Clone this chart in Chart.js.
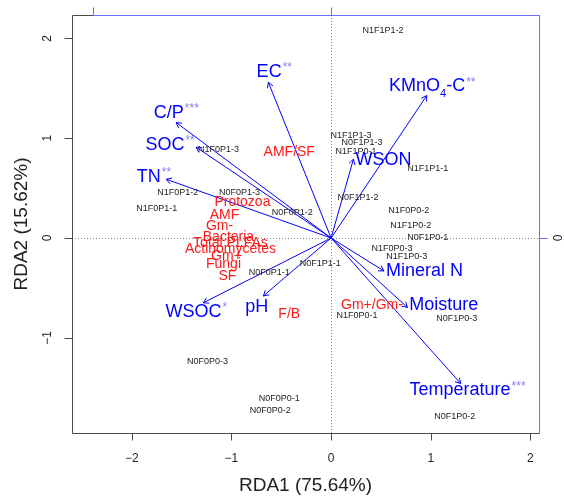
<!DOCTYPE html>
<html>
<head>
<meta charset="utf-8">
<script src="https://cdn.jsdelivr.net/npm/chart.js@4"></script>
<style>
  html, body { margin: 0; padding: 0; background: #fff; }
  #wrap { width: 564px; height: 498px; position: relative; }
</style>
</head>
<body>
<div id="wrap"><canvas id="rda"></canvas></div>
<script>
// RDA biplot data
const siteNames = ['N1F1P1-2', 'N1F0P1-3', 'N1F0P1-2', 'N0F0P1-3', 'N1F0P1-1', 'N0F0P1-2', 'N0F1P1-1', 'N0F0P1-1',
    'N1F1P1-3', 'N0F1P1-3', 'N1F1P0-1', 'N1F1P1-1', 'N0F1P1-2', 'N1F0P0-2', 'N1F1P0-2', 'N0F1P0-1',
    'N1F0P0-3', 'N1F1P0-3', 'N0F0P0-3', 'N0F0P0-1', 'N0F0P0-2', 'N1F0P0-1', 'N0F1P0-3', 'N0F1P0-2'];
const siteX = [0.52, -1.13, -1.54, -0.92, -1.75, -0.39, -0.11, -0.62,
    0.20, 0.31, 0.25, 0.97, 0.27, 0.78, 0.80, 0.97,
    0.61, 0.76, -1.24, -0.52, -0.61, 0.26, 1.26, 1.24];
const siteY = [2.08, 0.89, 0.46, 0.46, 0.30, 0.26, -0.26, -0.35,
    1.03, 0.96, 0.87, 0.70, 0.41, 0.28, 0.13, 0.01,
    -0.11, -0.19, -1.24, -1.61, -1.73, -0.78, -0.81, -1.79];

const speciesNames = ['AMF/SF', 'Protozoa', 'AMF', 'Gm-', 'Bacteria', 'Total PLFAs', 'Actinomycetes', 'Gm+', 'Fungi', 'SF', 'F/B', 'Gm+/Gm-'];
const speciesX = [-0.42, -0.89, -1.07, -1.12, -1.03, -1.01, -1.01, -1.05, -1.08, -1.04, -0.42, 0.41];
const speciesY = [0.86, 0.36, 0.23, 0.12, 0.01, -0.05, -0.11, -0.18, -0.26, -0.38, -0.76, -0.67];

const envNames = ['EC', 'KMnO4-C', 'C/P', 'SOC', 'TN', 'WSON', 'Mineral N', 'Moisture', 'Temperature', 'WSOC', 'pH'];
const envStars = ['**', '**', '***', '**', '**', '', '', '', '***', '*', ''];
const envX = [-0.63, 0.96, -1.555, -1.354, -1.655, 0.224, 0.53, 0.766, 1.30, -1.283, -0.68];
const envY = [1.56, 1.427, 1.157, 0.91, 0.589, 0.79, -0.33, -0.695, -1.457, -0.649, -0.58];
// where each arrow label sits
const envLabelX = [-0.622, 0.963, -1.628, -1.668, -1.830, 0.525, 0.938, 1.131, 1.294, -1.381, -0.745];
const envLabelY = [1.662, 1.518, 1.251, 0.930, 0.615, 0.782, -0.331, -0.672, -1.525, -0.739, -0.689];

const xTicks = [-2, -1, 0, 1, 2];
const yTicks = [-1, 0, 1, 2];
const arrowTicks = [-1, 0];   // top/right axes, arrow scale
const arrowMul = 2.39;

const FONT = '"Liberation Sans", Arial, Helvetica, sans-serif';
const BLUE = '#0000ff';
const AXBLUE = '#6a6aff';

const toPts = (xs, ys) => xs.map((x, i) => ({ x: x, y: ys[i] }));

const datasets = envNames.map((n, i) => ({
    label: n,
    data: [{ x: 0, y: 0 }, { x: envX[i], y: envY[i] }],
    showLine: true,
    borderColor: BLUE,
    borderWidth: 1,
    pointRadius: 0,
    kind: 'arrow'
}));
datasets.push({ label: 'sites', data: toPts(siteX, siteY), pointRadius: 0, kind: 'sites' });
datasets.push({ label: 'species', data: toPts(speciesX, speciesY), pointRadius: 0, kind: 'species' });
datasets.push({ label: 'envLabels', data: toPts(envLabelX, envLabelY), pointRadius: 0, kind: 'env' });

function findMeta(chart, kind) {
    const i = chart.data.datasets.findIndex(d => d.kind === kind);
    return chart.getDatasetMeta(i);
}

const biplot = {
    id: 'biplot',
    beforeDatasetsDraw(chart) {
        const { ctx, chartArea: a, scales: { x, y } } = chart;
        ctx.save();
        ctx.strokeStyle = '#888';
        ctx.lineWidth = 1;
        ctx.setLineDash([1, 2]);
        const x0 = Math.round(x.getPixelForValue(0)) + 0.5;
        const y0 = Math.round(y.getPixelForValue(0)) + 0.5;
        ctx.beginPath();
        ctx.moveTo(x0, a.top); ctx.lineTo(x0, a.bottom);
        ctx.moveTo(a.left, y0); ctx.lineTo(a.right, y0);
        ctx.stroke();
        ctx.restore();
    },
    afterDatasetsDraw(chart) {
        const { ctx, chartArea: a, scales: { x, y } } = chart;
        ctx.save();

        // arrow heads
        ctx.strokeStyle = BLUE;
        ctx.lineWidth = 1;
        chart.data.datasets.forEach((d, i) => {
            if (d.kind !== 'arrow') return;
            const pts = chart.getDatasetMeta(i).data;
            const p0 = pts[0], p1 = pts[1];
            const ang = Math.atan2(p1.y - p0.y, p1.x - p0.x);
            const L = 6;
            ctx.beginPath();
            ctx.moveTo(p1.x - L * Math.cos(ang - Math.PI / 6), p1.y - L * Math.sin(ang - Math.PI / 6));
            ctx.lineTo(p1.x, p1.y);
            ctx.lineTo(p1.x - L * Math.cos(ang + Math.PI / 6), p1.y - L * Math.sin(ang + Math.PI / 6));
            ctx.stroke();
        });

        ctx.textAlign = 'center';
        ctx.textBaseline = 'middle';

        // site labels
        ctx.fillStyle = '#222';
        ctx.font = '9px ' + FONT;
        findMeta(chart, 'sites').data.forEach((p, i) => ctx.fillText(siteNames[i], p.x, p.y));

        // species labels
        ctx.fillStyle = '#ff1a1a';
        ctx.font = '14px ' + FONT;
        findMeta(chart, 'species').data.forEach((p, i) => ctx.fillText(speciesNames[i], p.x, p.y));

        // environmental labels
        findMeta(chart, 'env').data.forEach((p, i) => {
            const name = envNames[i];
            ctx.font = '18px ' + FONT;
            let w;
            if (name === 'KMnO4-C') {
                ctx.font = '18px ' + FONT;
                const w1 = ctx.measureText('KMnO').width;
                const w3 = ctx.measureText('-C').width;
                ctx.font = '11px ' + FONT;
                const w2 = ctx.measureText('4').width;
                w = w1 + w2 + w3;
                let sx = p.x - w / 2;
                ctx.textAlign = 'left';
                ctx.fillStyle = BLUE;
                ctx.font = '18px ' + FONT;
                ctx.fillText('KMnO', sx, p.y);
                ctx.font = '11px ' + FONT;
                ctx.fillText('4', sx + w1, p.y + 7);
                ctx.font = '18px ' + FONT;
                ctx.fillText('-C', sx + w1 + w2, p.y);
            } else {
                w = ctx.measureText(name).width;
                ctx.textAlign = 'left';
                ctx.fillStyle = BLUE;
                ctx.fillText(name, p.x - w / 2, p.y);
            }
            if (envStars[i]) {
                ctx.fillStyle = '#8080ff';
                ctx.font = '12px ' + FONT;
                ctx.fillText(envStars[i], p.x + w / 2 + 1, p.y - 4);
            }
            ctx.textAlign = 'center';
        });

        // box: left/bottom grey, top/right blue
        ctx.lineWidth = 1;
        ctx.strokeStyle = '#4a4a4a';
        const L = Math.round(a.left) + 0.5, R = Math.round(a.right) + 0.5;
        const T = Math.round(a.top) + 0.5, B = Math.round(a.bottom) + 0.5;
        ctx.beginPath();
        ctx.moveTo(L, T); ctx.lineTo(L, B); ctx.lineTo(R, B);
        ctx.stroke();
        const xTopStart = Math.round(x.getPixelForValue(arrowTicks[0] * arrowMul)) + 0.5;
        ctx.beginPath();
        ctx.moveTo(L, T); ctx.lineTo(xTopStart, T);
        ctx.stroke();
        ctx.strokeStyle = AXBLUE;
        ctx.beginPath();
        ctx.moveTo(xTopStart, T); ctx.lineTo(R, T); ctx.lineTo(R, B);
        ctx.stroke();

        // top and right axis ticks (arrow scale)
        ctx.beginPath();
        arrowTicks.forEach(t => {
            const px = Math.round(x.getPixelForValue(t * arrowMul)) + 0.5;
            ctx.moveTo(px, T); ctx.lineTo(px, T - 8);
            const v = t * arrowMul;
            if (v >= y.min && v <= y.max) {
                const py = Math.round(y.getPixelForValue(v)) + 0.5;
                ctx.moveTo(R, py); ctx.lineTo(R + 8, py);
            }
        });
        ctx.stroke();
        ctx.fillStyle = '#222';
        ctx.font = '12px ' + FONT;
        arrowTicks.forEach(t => {
            const v = t * arrowMul;
            if (v >= y.min && v <= y.max) {
                ctx.save();
                ctx.translate(R + 19, y.getPixelForValue(v));
                ctx.rotate(-Math.PI / 2);
                ctx.fillText(String(t), 0, 0);
                ctx.restore();
            }
        });

        // bottom and left axes
        ctx.strokeStyle = '#4a4a4a';
        ctx.beginPath();
        xTicks.forEach(t => {
            const px = Math.round(x.getPixelForValue(t)) + 0.5;
            ctx.moveTo(px, B); ctx.lineTo(px, B + 7);
        });
        yTicks.forEach(t => {
            const py = Math.round(y.getPixelForValue(t)) + 0.5;
            ctx.moveTo(L, py); ctx.lineTo(L - 8, py);
        });
        ctx.stroke();

        ctx.fillStyle = '#222';
        ctx.font = '12px ' + FONT;
        const fmt = t => (t < 0 ? '\u2212' + Math.abs(t) : String(t));
        xTicks.forEach(t => ctx.fillText(fmt(t), x.getPixelForValue(t), B + 25));
        yTicks.forEach(t => {
            ctx.save();
            ctx.translate(L - 25, y.getPixelForValue(t));
            ctx.rotate(-Math.PI / 2);
            ctx.fillText(fmt(t), 0, 0);
            ctx.restore();
        });

        // axis titles
        ctx.fillStyle = '#222';
        ctx.font = '19px ' + FONT;
        ctx.fillText('RDA1 (75.64%)', (a.left + a.right) / 2, 486);
        ctx.save();
        ctx.translate(22, (a.top + a.bottom) / 2);
        ctx.rotate(-Math.PI / 2);
        ctx.fillText('RDA2 (15.62%)', 0, 0);
        ctx.restore();

        ctx.restore();
    }
};

new Chart(document.getElementById('rda'), {
    type: 'scatter',
    data: { datasets: datasets },
    options: {
        responsive: true,
        maintainAspectRatio: false,
        animation: false,
        layout: { padding: { left: 72, top: 15, right: 25, bottom: 65 } },
        scales: {
            x: { type: 'linear', min: -2.6, max: 2.086, display: false },
            y: { type: 'linear', min: -1.953, max: 2.234, display: false }
        },
        plugins: {
            legend: { display: false },
            tooltip: { enabled: false }
        },
        elements: { line: { tension: 0 } }
    },
    plugins: [biplot]
});
</script>
</body>
</html>
